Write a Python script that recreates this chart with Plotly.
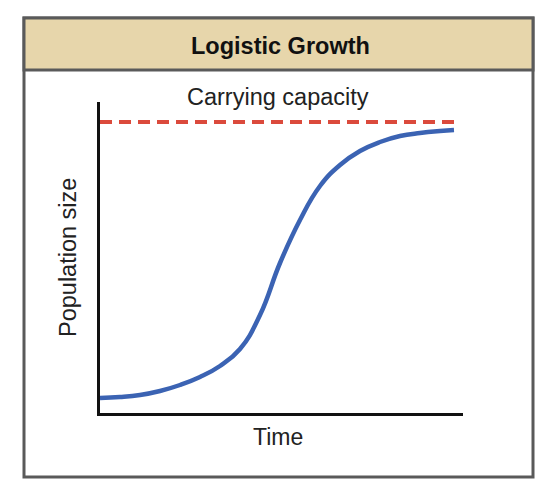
import plotly.graph_objects as go

# Data (arbitrary units)
time = [0, 20, 40, 60, 80, 100, 120, 140, 160, 180, 200, 220, 240, 260, 280, 300, 320, 340, 354]
population = [15, 16, 18, 22, 28, 36, 47, 64, 98, 150, 193, 227, 248, 262, 271, 277, 280, 282, 283]
cap_time = [0, 355]
carrying_capacity = [291, 291]

title_text = "Logistic Growth"
cap_label = "Carrying capacity"
x_label = "Time"
y_label = "Population size"

W, H = 552, 498
L, R, T, B = 100, 463, 102, 413  # plot area in pixels


def px(x):
    return (x - L) / (R - L)


def py(y):
    return (B - y) / (B - T)


fig = go.Figure()
fig.add_trace(go.Scatter(x=cap_time, y=carrying_capacity, mode="lines",
                         line=dict(color="#db4a3c", width=4, dash="12px,7px"),
                         hoverinfo="skip"))
fig.add_trace(go.Scatter(x=time, y=population, mode="lines",
                         line=dict(color="#3b63b3", width=4.5, shape="spline", smoothing=1.3),
                         hoverinfo="skip"))

font = "Liberation Sans, Arial, sans-serif"
shapes = [
    dict(type="rect", xref="paper", yref="paper", x0=px(24), x1=px(533), y0=py(477), y1=py(18),
         line=dict(color="#5a5a5a", width=3), fillcolor="rgba(0,0,0,0)", layer="below"),
    dict(type="rect", xref="paper", yref="paper", x0=px(24), x1=px(533), y0=py(70), y1=py(18),
         line=dict(color="#5a5a5a", width=3), fillcolor="#e7d6ab", layer="below"),
]
annotations = [
    dict(text="<b>%s</b>" % title_text, xref="paper", yref="paper", x=px(280), y=py(46),
         showarrow=False, font=dict(family=font, size=23.5, color="#111"), xanchor="center", yanchor="middle"),
    dict(text=cap_label, xref="paper", yref="paper", x=px(278), y=py(97),
         showarrow=False, font=dict(family=font, size=23.5, color="#222"), xanchor="center", yanchor="middle"),
    dict(text=x_label, xref="paper", yref="paper", x=px(278), y=py(437),
         showarrow=False, font=dict(family=font, size=23, color="#222"), xanchor="center", yanchor="middle"),
    dict(text=y_label, xref="paper", yref="paper", x=px(68), y=py(258), textangle=-90,
         showarrow=False, font=dict(family=font, size=23.5, color="#222"), xanchor="center", yanchor="middle"),
]

fig.update_layout(
    width=W, height=H,
    margin=dict(l=L, r=W - R, t=T, b=H - B, pad=0),
    paper_bgcolor="white", plot_bgcolor="white",
    showlegend=False,
    shapes=shapes, annotations=annotations,
    xaxis=dict(range=[0, R - L], showline=True, linecolor="#111", linewidth=3,
               showgrid=False, zeroline=False, showticklabels=False, ticks="", fixedrange=True),
    yaxis=dict(range=[0, B - T], showline=True, linecolor="#111", linewidth=3,
               showgrid=False, zeroline=False, showticklabels=False, ticks="", fixedrange=True),
)

fig.write_html("out.html", config={"displayModeBar": False},
               post_script="document.body.style.margin='0';document.body.style.padding='0';")
